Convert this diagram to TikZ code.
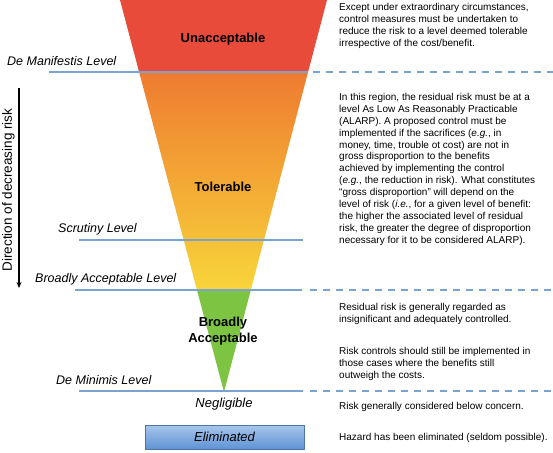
\documentclass[tikz,border=0pt]{standalone}
\usepackage{fontspec}
\setmainfont{Liberation Sans}
\usetikzlibrary{calc,arrows.meta}
\definecolor{riskred}{HTML}{E84B3A}
\definecolor{riskorange}{HTML}{EE7B30}
\definecolor{riskyellow}{HTML}{F8D53A}
\definecolor{riskgreen}{HTML}{7DC443}
\definecolor{levelblue}{HTML}{7AA3CF}
\definecolor{elimtop}{HTML}{A8C6EC}
\definecolor{elimbot}{HTML}{5F93D4}
\begin{document}
\begin{tikzpicture}[x=1pt,y=-1pt,line join=round,>={Stealth[length=6pt,width=5pt]},
	lvl/.style={levelblue,line width=1.4pt},
	lvldash/.style={lvl,dash pattern=on 7pt off 6pt},
	lvllabel/.style={anchor=west,inner sep=0pt,font=\fontsize{12.5}{14}\selectfont\itshape},
	zone/.style={font=\fontsize{13}{16}\selectfont\bfseries,align=center,inner sep=0pt},
	desc/.style={anchor=north west,inner sep=0pt,align=left,font=\fontsize{10}{11.9}\selectfont}]
	\useasboundingbox (0,0) rectangle (553,452);
	% Triangle corners and cuts
	\path (120,0) coordinate (TL)
	(327,0) coordinate (TR)
	(224,392) coordinate (V)
	($(TL)!0.1837!(V)$) coordinate (L1)
	($(TR)!0.1837!(V)$) coordinate (R1)
	($(TL)!0.7398!(V)$) coordinate (L2)
	($(TR)!0.7398!(V)$) coordinate (R2)
	;
	% Zones
	\fill[riskred] (TL)--(TR)--(R1)--(L1)--cycle;
	\shade[top color=riskorange,bottom color=riskyellow] (L1)--(R1)--(R2)--(L2)--cycle;
	\fill[riskgreen] (L2)--(R2)--(V)--cycle;
	% Levels
	\foreach \y/\a/\b in {72/49/308,240/79/303,290/75/302,391/79/303}
	\draw[lvl] (\a,\y) -- (\b,\y);
	\foreach \y/\a in {72/313,290/310,391/310}
	\draw[lvldash] (\a,\y) -- (553,\y);
	\node[lvllabel] (manif) at (7,61) {De Manifestis Level};
	\node[lvllabel] (scrut) at (58,229) {Scrutiny Level};
	\node[lvllabel] (broad) at (35,279) {Broadly Acceptable Level};
	\node[lvllabel] (minim) at (56,380) {De Minimis Level};
	% Direction arrow
	\path (19,88) coordinate (arrtop) (19,288) coordinate (arrbot);
	\draw[->,line width=1.1pt] (arrtop) -- (arrbot);
	\node[rotate=90,inner sep=0pt,font=\fontsize{13.5}{15}\selectfont] (dir) at (8.5,190) {Direction of decreasing risk};
	% Zone names
	\node[zone] (unacc) at (223,39) {Unacceptable};
	\node[zone] (toler) at (223,187) {Tolerable};
	\node[zone] (bacc) at (223,331) {Broadly\\Acceptable};
	\node[zone,font=\fontsize{13}{16}\selectfont\itshape] (negl) at (224,404) {Negligible};
	\shade[top color=elimtop,bottom color=elimbot,draw=elimbot!80!black,line width=0.4pt] (145,425) rectangle (304,449);
	\node[zone,font=\fontsize{13}{16}\selectfont\itshape] (elim) at (224.5,437) {Eliminated};
	% Descriptions
	\node[desc] (d1) at (339,3) {Except under extraordinary circumstances,\\control measures must be undertaken to\\reduce the risk to a level deemed tolerable\\irrespective of the cost/benefit.};
	\node[desc] (d2) at (339,93) {In this region, the residual risk must be at a\\level As Low As Reasonably Practicable\\(ALARP). A proposed control must be\\implemented if the sacrifices (\textit{e.g.}, in\\money, time, trouble ot cost) are not in\\gross disproportion to the benefits\\achieved by implementing the control\\(\textit{e.g.}, the reduction in risk). What constitutes\\“gross disproportion” will depend on the\\level of risk (\textit{i.e.}, for a given level of benefit:\\the higher the associated level of residual\\risk, the greater the degree of disproportion\\necessary for it to be considered ALARP).};
	\node[desc] (d3) at (339,303) {Residual risk is generally regarded as\\insignificant and adequately controlled.};
	\node[desc] (d4) at (339,347) {Risk controls should still be implemented in\\those cases where the benefits still\\outweigh the costs.};
	\node[desc] (d5) at (339,402) {Risk generally considered below concern.};
	\node[desc] (d6) at (339,433) {Hazard has been eliminated (seldom possible).};
\end{tikzpicture}
\end{document}
